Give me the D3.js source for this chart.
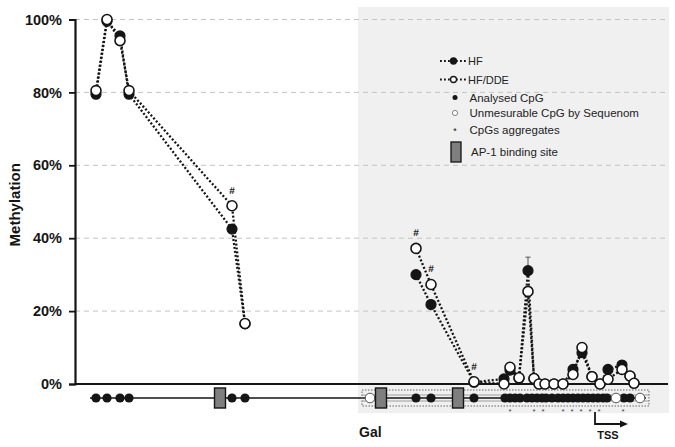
<!DOCTYPE html>
<html>
<head>
<meta charset="utf-8">
<script src="https://cdn.jsdelivr.net/npm/d3@7"></script>
<style>
  body { margin: 0; background: #fff; }
  text { font-family: Arial, "Liberation Sans", sans-serif; }
</style>
</head>
<body>
<div id="chart-area"></div>
<script>

// CpG positions (arbitrary map units) and methylation (%)
const positions = [21, 32, 45, 54, 157, 170, 341, 356, 399, 429, 435, 444, 453, 459, 464, 470, 479, 488, 498, 507, 517, 525, 533, 547, 555, 559]
const hf  = [79.5, 99.5, 95.5, 79.5, 42.5, 16.5, 30, 21.8, 0.5, 1.4, 3.8, 1.6, 31.1, 1.5, 0, 0, 0, 0, 4, 8.6, 2, 0, 4, 5.2, 2.2, 0.2]
const dde = [80.5, 100, 94.2, 80.5, 48.9, 16.6, 37.2, 27.3, 0.6, 0, 4.6, 1.7, 25.4, 1.5, 0, 0, 0, 0, 2.6, 10, 2, 0, 1.3, 4, 2.2, 0.2]
const segments = [[0, 5], [6, 25]]    // index ranges joined by lines
const signif = [4, 6, 7, 8]          // indices marked with #
const errIndex = 12, errUpper = 34.8  // HF error bar

// gene map
const mapAnalysed = [21, 32, 45, 54, 157, 170, 341, 356, 399,
  430, 435, 440, 445, 452, 457, 462, 467, 471, 477, 483, 488, 493, 498, 503, 508, 513, 518, 523, 528, 532,
  549, 555]
const mapUnmeasured = [295, 541, 565]
const ap1Sites = [145, 306, 383]
const aggregates = [435, 459, 468, 488, 497, 506, 515, 524, 548]
const galStart = 285, galEnd = 574, tss = 520

const yTicks = [0, 20, 40, 60, 80, 100]

const W = 675, H = 447
const svg = d3.select('#chart-area').append('svg')
  .attr('width', W).attr('height', H)

const x = d3.scaleLinear().domain([0, 593]).range([75, 668])
const y = d3.scaleLinear().domain([0, 100]).range([384, 19.5])

const INK = '#151515'

// shaded Gal region
svg.append('rect')
  .attr('x', x(galStart) - 2).attr('y', 7)
  .attr('width', x(593) + 1 - x(galStart) + 2).attr('height', 406)
  .attr('fill', '#f0f0f0')

// grid
svg.append('g').selectAll('line')
  .data(yTicks.filter(d => d > 0))
  .enter().append('line')
  .attr('x1', x(0)).attr('x2', x(593))
  .attr('y1', d => y(d)).attr('y2', d => y(d))
  .attr('stroke', '#c4c4c4').attr('stroke-width', 1)
  .attr('stroke-dasharray', '5,4')

// y axis
const yAxis = d3.axisLeft(y).tickValues(yTicks).tickFormat(d => d + '%').tickSize(6).tickPadding(7)
const ya = svg.append('g')
  .attr('transform', `translate(${x(0)},0)`)
  .call(yAxis)
ya.select('.domain').attr('stroke', INK).attr('stroke-width', 2.2)
ya.selectAll('.tick line').attr('stroke', INK).attr('stroke-width', 1.8)
ya.selectAll('.tick text')
  .attr('font-size', 14.5).attr('font-weight', 'bold').attr('fill', INK)
  .style('font-family', 'Arial, "Liberation Sans", sans-serif')

// baseline
svg.append('line')
  .attr('x1', x(0)).attr('x2', x(593))
  .attr('y1', y(0)).attr('y2', y(0))
  .attr('stroke', INK).attr('stroke-width', 2.2)

svg.append('text')
  .attr('transform', `translate(20,${(y(0) + y(100)) / 2 + 3}) rotate(-90)`)
  .attr('text-anchor', 'middle')
  .attr('font-size', 15).attr('font-weight', 'bold').attr('fill', INK)
  .text('Methylation')

// series lines
const line = d3.line().x(d => x(d[0])).y(d => y(d[1]))
const hfData = positions.map((p, i) => [p, hf[i]])
const ddeData = positions.map((p, i) => [p, dde[i]])

;[hfData, ddeData].forEach(s => {
  segments.forEach(([a, b]) => {
    svg.append('path')
      .datum(s.slice(a, b + 1))
      .attr('d', line)
      .attr('fill', 'none')
      .attr('stroke', INK).attr('stroke-width', 2.3)
      .attr('stroke-dasharray', '2,2')
  })
})

// error bar
svg.append('line')
  .attr('x1', x(positions[errIndex])).attr('x2', x(positions[errIndex]))
  .attr('y1', y(hf[errIndex])).attr('y2', y(errUpper))
  .attr('stroke', '#555').attr('stroke-width', 1)
svg.append('line')
  .attr('x1', x(positions[errIndex]) - 2.5).attr('x2', x(positions[errIndex]) + 2.5)
  .attr('y1', y(errUpper)).attr('y2', y(errUpper))
  .attr('stroke', '#555').attr('stroke-width', 1)

// points
svg.append('g').selectAll('circle')
  .data(hfData).enter().append('circle')
  .attr('cx', d => x(d[0])).attr('cy', d => y(d[1])).attr('r', 5)
  .attr('fill', INK).attr('stroke', INK).attr('stroke-width', 1.2)

svg.append('g').selectAll('circle')
  .data(ddeData).enter().append('circle')
  .attr('cx', d => x(d[0])).attr('cy', d => y(d[1])).attr('r', 5)
  .attr('fill', '#fff').attr('stroke', INK).attr('stroke-width', 1.6)

svg.append('g').selectAll('text')
  .data(signif).enter().append('text')
  .attr('x', i => x(positions[i])).attr('y', i => y(dde[i]) - 12)
  .attr('text-anchor', 'middle')
  .attr('font-size', 10).attr('font-weight', 'bold').attr('fill', '#222')
  .style('text-rendering', 'geometricPrecision')
  .text('#')

// gene map
const MAP_Y = 398
svg.append('line')
  .attr('x1', x(15)).attr('x2', x(galEnd - 3))
  .attr('y1', MAP_Y).attr('y2', MAP_Y)
  .attr('stroke', INK).attr('stroke-width', 1.5)

svg.append('rect')
  .attr('x', x(galStart) + 2).attr('y', MAP_Y - 8)
  .attr('width', x(galEnd) - x(galStart) - 2).attr('height', 16)
  .attr('fill', 'none').attr('stroke', '#666').attr('stroke-width', 1)
  .attr('stroke-dasharray', '1.5,1.5')
svg.append('line')
  .attr('x1', x(galStart) + 2).attr('x2', x(galEnd))
  .attr('y1', MAP_Y - 3).attr('y2', MAP_Y - 3)
  .attr('stroke', '#888').attr('stroke-width', 0.8)
svg.append('line')
  .attr('x1', x(galStart) + 2).attr('x2', x(galEnd))
  .attr('y1', MAP_Y + 3).attr('y2', MAP_Y + 3)
  .attr('stroke', '#888').attr('stroke-width', 0.8)

svg.append('g').selectAll('circle')
  .data(mapAnalysed).enter().append('circle')
  .attr('cx', d => x(d)).attr('cy', MAP_Y).attr('r', 4.6)
  .attr('fill', INK)

svg.append('g').selectAll('circle')
  .data(mapUnmeasured).enter().append('circle')
  .attr('cx', d => x(d)).attr('cy', MAP_Y).attr('r', 4.8)
  .attr('fill', '#fff').attr('stroke', '#555').attr('stroke-width', 1)

svg.append('g').selectAll('rect')
  .data(ap1Sites).enter().append('rect')
  .attr('x', d => x(d) - 5.5).attr('y', MAP_Y - 10)
  .attr('width', 11).attr('height', 20)
  .attr('fill', '#7f7f7f').attr('stroke', INK).attr('stroke-width', 1.4)

svg.append('g').selectAll('text')
  .data(aggregates).enter().append('text')
  .attr('x', d => x(d)).attr('y', 414)
  .attr('text-anchor', 'middle')
  .attr('font-size', 8).attr('fill', '#444')
  .text('*')

// TSS arrow
const tx = x(tss)
svg.append('path')
  .attr('d', `M${tx},412 V424 H${tx + 27}`)
  .attr('fill', 'none').attr('stroke', INK).attr('stroke-width', 1.8)
svg.append('path')
  .attr('d', `M${tx + 33},424 L${tx + 25},420.5 L${tx + 25},427.5 Z`)
  .attr('fill', INK)
svg.append('text')
  .attr('x', tx + 13).attr('y', 439)
  .attr('text-anchor', 'middle')
  .attr('font-size', 11).attr('font-weight', 'bold').attr('fill', INK)
  .text('TSS')

svg.append('text')
  .attr('x', x(galStart) - 1).attr('y', 437)
  .attr('font-size', 14).attr('font-weight', 'bold').attr('fill', INK)
  .text('Gal')

// legend
const lg = svg.append('g').attr('transform', 'translate(440,0)')
const legendRows = [
  { y: 61, kind: 'hf', label: 'HF' },
  { y: 79.5, kind: 'dde', label: 'HF/DDE' },
  { y: 97.5, kind: 'dot', label: 'Analysed CpG' },
  { y: 113, kind: 'open', label: 'Unmesurable CpG by Sequenom' },
  { y: 130, kind: 'star', label: 'CpGs aggregates' },
  { y: 152, kind: 'box', label: 'AP-1 binding site' }
]
legendRows.forEach(r => {
  if (r.kind === 'hf' || r.kind === 'dde') {
    lg.append('line')
      .attr('x1', 0).attr('x2', 27).attr('y1', r.y).attr('y2', r.y)
      .attr('stroke', INK).attr('stroke-width', 1.8).attr('stroke-dasharray', '1.8,2.2')
    lg.append('circle')
      .attr('cx', 13.5).attr('cy', r.y).attr('r', 3)
      .attr('fill', r.kind === 'hf' ? INK : '#fff').attr('stroke', INK).attr('stroke-width', 1.3)
    lg.append('text').attr('x', 28).attr('y', r.y + 4)
      .attr('font-size', 11).attr('fill', '#222').text(r.label)
  } else {
    if (r.kind === 'dot') {
      lg.append('circle').attr('cx', 15).attr('cy', r.y).attr('r', 2.5).attr('fill', INK)
    } else if (r.kind === 'open') {
      lg.append('circle').attr('cx', 15).attr('cy', r.y).attr('r', 2.6)
        .attr('fill', '#fff').attr('stroke', '#777').attr('stroke-width', 0.9)
    } else if (r.kind === 'star') {
      lg.append('text').attr('x', 15).attr('y', r.y + 4).attr('text-anchor', 'middle')
        .attr('font-size', 9).attr('fill', INK).text('*')
    } else {
      lg.append('rect').attr('x', 11).attr('y', r.y - 10).attr('width', 10).attr('height', 20)
        .attr('fill', '#7f7f7f').attr('stroke', INK).attr('stroke-width', 1.3)
    }
    lg.append('text').attr('x', r.kind === 'box' ? 31 : 29.5).attr('y', r.y + 4)
      .attr('font-size', 11.5).attr('fill', '#222').text(r.label)
  }
})

</script>
</body>
</html>
